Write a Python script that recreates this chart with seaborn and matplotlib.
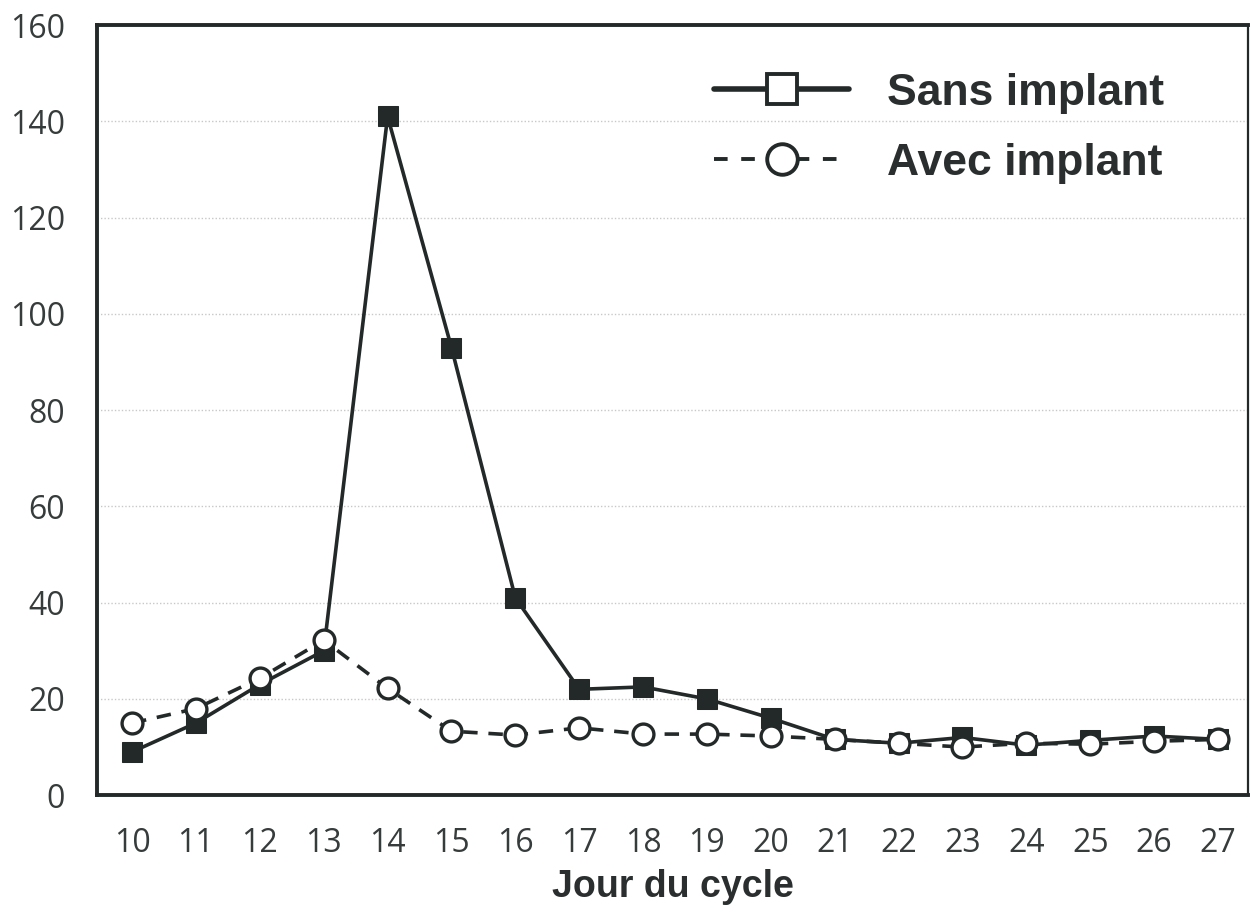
import matplotlib
matplotlib.use("Agg")
import matplotlib.pyplot as plt
from matplotlib.lines import Line2D
import pandas as pd
import seaborn as sns

# Data
jours = list(range(10, 28))
sans_implant = [9, 15, 23, 30, 141, 93, 41, 22, 22.5, 20, 16, 11.6, 10.8, 12, 10.4, 11.4, 12.3, 11.6]
avec_implant = [15, 18, 24.3, 32.2, 22.2, 13.3, 12.5, 14, 12.7, 12.7, 12.3, 11.6, 10.8, 10, 10.8, 10.6, 11.2, 11.6]
y_ticks = [0, 20, 40, 60, 80, 100, 120, 140, 160]

df = pd.DataFrame({"jour": jours, "sans": sans_implant, "avec": avec_implant})

sns.set_style("white")
plt.rcParams['font.family'] = ['Open Sans', 'DejaVu Sans']

ink = "#232828"
fig, ax = plt.subplots(figsize=(12.51, 9.13), dpi=100)
fig.subplots_adjust(left=0.0775, right=0.9976, bottom=0.129, top=0.9726)

# Avec implant: dashed line, open circles
sns.lineplot(data=df, x="jour", y="avec", ax=ax, color=ink, linewidth=2.6,
             linestyle=(0, (4, 3)), marker="o", markersize=15,
             markerfacecolor="white", markeredgecolor=ink, markeredgewidth=2.4,
             zorder=3)
# Sans implant: solid line, filled squares
sns.lineplot(data=df, x="jour", y="sans", ax=ax, color=ink, linewidth=2.6,
             marker="s", markersize=15, markerfacecolor=ink,
             markeredgecolor=ink, zorder=2)

ax.set_xlim(9.45, 27.47)
ax.set_ylim(0, 160)
ax.set_xticks(jours)
ax.set_yticks(y_ticks)
ax.tick_params(axis="both", labelsize=23, labelcolor="#363b3b", color=ink,
               length=7, width=2)
ax.tick_params(axis="x", pad=16)
ax.tick_params(axis="y", pad=16)

ax.yaxis.grid(True, color="#c8c8c8", linestyle=(0, (1, 1.5)), linewidth=1)
ax.set_axisbelow(True)
for side in ["left", "bottom", "top"]:
    ax.spines[side].set_color(ink)
    ax.spines[side].set_linewidth(2.8)
ax.spines["right"].set_color(ink)
ax.spines["right"].set_linewidth(1.6)

ax.set_xlabel("Jour du cycle", fontsize=27, fontweight="bold",
              family=["Liberation Sans", "DejaVu Sans"], color="#2a2e2e", labelpad=6)
ax.set_ylabel("")

handles = [
    Line2D([], [], color=ink, linewidth=4, marker="s", markersize=22,
           markerfacecolor="white", markeredgecolor=ink, markeredgewidth=2.8),
    Line2D([], [], color=ink, linewidth=2.8, linestyle=(0, (3.5, 3.5)), marker="o",
           markersize=22, markerfacecolor="white", markeredgecolor=ink,
           markeredgewidth=2.8),
]
ax.legend(handles, ["Sans implant", "Avec implant"], loc="upper right",
          bbox_to_anchor=(0.962, 0.99), frameon=False, handlelength=3.05,
          handletextpad=0.85, labelspacing=0.65,
          prop={"family": ["Liberation Sans", "DejaVu Sans"], "weight": "bold", "size": 32},
          labelcolor="#2a2e2e")

fig.savefig("out.png", dpi=100)
